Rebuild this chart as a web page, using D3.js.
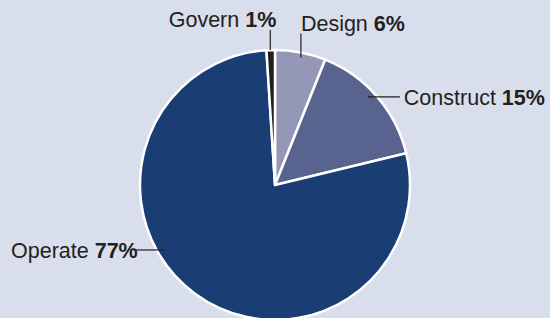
<!DOCTYPE html>
<html>
<head>
<meta charset="utf-8">
<script src="https://cdn.jsdelivr.net/npm/d3@7"></script>
<style>
  body { margin: 0; background: #d9deec; }
  svg { display: block; }
</style>
</head>
<body>
<svg id="chart" width="550" height="318"></svg>
<script>
const categories = ['Design', 'Construct', 'Operate', 'Govern'];
const values = [6, 15, 77, 1];
const colors = ['#9597b6', '#58648f', '#1a3e73', '#231f20'];
// label layout: anchor point of leader line inside pie (angle deg, radius), direction of the leader
const leaderAngle = [11.5, 46.5, 239.5, 358];
const leaderRadius = [130, 128, 128, 135];
const leaderDir = ['up', 'right', 'left', 'up'];
const leaderLen = [24, 32, 30, 20];

const width = 550, height = 318;
const cx = 275, cy = 185, radius = 135;
const svg = d3.select('#chart');

const pie = d3.pie().sort(null).value(d => d.value);
const data = categories.map((c, i) => ({ name: c, value: values[i], color: colors[i] }));
const arcs = pie(data);
const arc = d3.arc().innerRadius(0).outerRadius(radius);

const g = svg.append('g').attr('transform', `translate(${cx},${cy})`);

g.selectAll('path')
  .data(arcs)
  .enter()
  .append('path')
  .attr('d', arc)
  .attr('fill', d => d.data.color)
  .attr('stroke', '#ffffff')
  .attr('stroke-width', 2.5)
  .attr('stroke-linejoin', 'round');

const fmt = d3.format('d');
arcs.forEach((d, i) => {
  const a = leaderAngle[i] * Math.PI / 180;
  const x0 = leaderRadius[i] * Math.sin(a);
  const y0 = -leaderRadius[i] * Math.cos(a);
  let x1 = x0, y1 = y0;
  if (leaderDir[i] === 'up') y1 = y0 - leaderLen[i];
  if (leaderDir[i] === 'right') x1 = x0 + leaderLen[i];
  if (leaderDir[i] === 'left') x1 = x0 - leaderLen[i];

  g.append('line')
    .attr('x1', x0).attr('y1', y0)
    .attr('x2', x1).attr('y2', y1)
    .attr('stroke', '#231f20')
    .attr('stroke-width', 1.2);

  const t = g.append('text')
    .attr('font-family', 'Liberation Sans, Arial, sans-serif')
    .attr('font-size', 21.5)
    .attr('fill', '#231f20');

  if (leaderDir[i] === 'up') {
    const isGov = d.data.name === 'Govern';
    t.attr('x', isGov ? x1 + 6 : x1)
      .attr('y', y1 - 3)
      .attr('text-anchor', isGov ? 'end' : 'start');
  } else if (leaderDir[i] === 'right') {
    t.attr('x', x1 + 4).attr('y', y1 + 8).attr('text-anchor', 'start');
  } else {
    t.attr('x', x1 + 3).attr('y', y1 + 8).attr('text-anchor', 'end');
  }
  t.append('tspan').text(d.data.name + ' ');
  t.append('tspan').attr('font-weight', 'bold').text(fmt(d.data.value) + '%');
});
</script>
</body>
</html>
